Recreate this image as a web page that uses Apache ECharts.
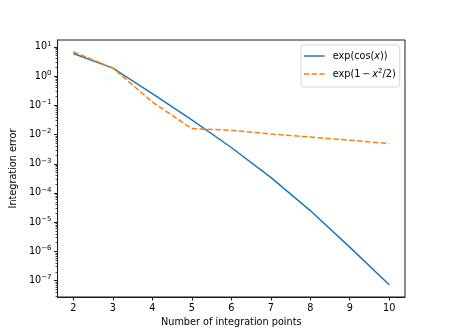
<!DOCTYPE html>
<html>
<head>
<meta charset="utf-8">
<script src="https://cdn.jsdelivr.net/npm/echarts@6/dist/echarts.min.js"></script>
<style>
html,body{margin:0;padding:0;background:#fff;}
#chart{width:450px;height:333px;}
</style>
</head>
<body>
<div id="chart"></div>
<script>
// Data
const points = [2, 3, 4, 5, 6, 7, 8, 9, 10];
const errCos = [5.9, 1.87, 0.25, 0.032, 0.0036, 3.4e-4, 2.5e-5, 1.4e-6, 7.2e-8];
const errGauss = [6.8, 1.9, 0.13, 0.016, 0.014, 0.0104, 0.0082, 0.0064, 0.0049];
const seriesNames = ['exp(cos(x))', 'exp(1 − x²/2)'];
const xTicks = [2, 3, 4, 5, 6, 7, 8, 9, 10];
const yExponents = [-7, -6, -5, -4, -3, -2, -1, 0, 1];

const yMin = Math.pow(10, -7.56);
const yMax = Math.pow(10, 1.235);
const yMajor = yExponents.map(e => Math.pow(10, e));
const yMinor = [];
for (let e = -8; e <= 1; e++) {
  for (let k = 2; k <= 9; k++) {
    const v = k * Math.pow(10, e);
    if (v > yMin && v < yMax) yMinor.push(v);
  }
}

const FONT = 'DejaVu Sans';
const FS = 9.7;
const BLACK = '#000';
const AX = '#1a1a1a';
const chart = echarts.init(document.getElementById('chart'), null, {renderer: 'canvas'});

const legendFmt = {
  'exp(cos(x))': '{g|}{n|exp(cos(}{i|x}{n|))}',
  'exp(1 − x²/2)': '{g|}{n|exp(1\u2009−\u2009}{i|x}{s|2}{n|/2)}'
};

chart.setOption({
  animation: false,
  backgroundColor: '#fff',
  grid: {
    left: 56, right: 45, top: 40, bottom: 36,
    show: true, borderColor: AX, borderWidth: 1, backgroundColor: 'transparent'
  },
  legend: {
    left: 301, top: 45, orient: 'vertical',
    itemWidth: 21, itemHeight: 10, itemGap: 7,
    padding: [6, 4, 8, 2],
    backgroundColor: '#fff', borderColor: '#d6d6d6', borderWidth: 1, borderRadius: 3,
    data: seriesNames,
    itemStyle: {opacity: 0},
    lineStyle: {width: 1.5},
    formatter: name => legendFmt[name],
    textStyle: {
      fontFamily: FONT, fontSize: FS, color: BLACK,
      rich: {
        g: {width: 3, lineHeight: 12},
        n: {fontFamily: FONT, fontSize: FS, color: BLACK, lineHeight: 12},
        i: {fontFamily: FONT, fontSize: FS, fontStyle: 'italic', color: BLACK, lineHeight: 12},
        s: {fontFamily: FONT, fontSize: 7, color: BLACK, verticalAlign: 'top', padding: [0, 0, 5, 0]}
      }
    }
  },
  xAxis: {
    type: 'value', min: 1.6, max: 10.4,
    name: 'Number of integration points', nameLocation: 'middle', nameGap: 19,
    nameTextStyle: {fontFamily: FONT, fontSize: FS, color: BLACK},
    axisLine: {show: true, lineStyle: {color: AX, width: 1}},
    axisTick: {show: true, inside: false, length: 3.5, customValues: xTicks, lineStyle: {color: AX}},
    axisLabel: {show: true, customValues: xTicks, margin: 6, fontFamily: FONT, fontSize: FS, color: BLACK},
    splitLine: {show: false}
  },
  yAxis: [
    {
      type: 'log', logBase: 10, min: yMin, max: yMax,
      name: 'Integration error', nameLocation: 'middle', nameGap: 36,
      nameTextStyle: {fontFamily: FONT, fontSize: FS, color: BLACK},
      axisLine: {show: true, lineStyle: {color: AX, width: 1}},
      axisTick: {show: true, inside: false, length: 3.5, customValues: yMajor, lineStyle: {color: AX}},
      axisLabel: {
        show: true, customValues: yMajor, margin: 6,
        formatter: v => {
          const e = Math.round(Math.log10(v));
          return '{b|10}{e|' + (e < 0 ? '−' + (-e) : String(e)) + '}';
        },
        rich: {
          b: {fontFamily: FONT, fontSize: FS, color: BLACK},
          e: {fontFamily: FONT, fontSize: 7, color: BLACK, verticalAlign: 'top', padding: [0, 0, 6, 0]}
        }
      },
      splitLine: {show: false}
    },
    {
      type: 'log', logBase: 10, min: yMin, max: yMax, position: 'left',
      axisLine: {show: false},
      axisTick: {show: true, inside: false, length: 2, customValues: yMinor, lineStyle: {color: AX, width: 0.8}},
      axisLabel: {show: false},
      splitLine: {show: false}
    }
  ],
  series: [
    {
      name: seriesNames[0], type: 'line', yAxisIndex: 0,
      data: points.map((x, i) => [x, errCos[i]]),
      showSymbol: false, symbol: 'none',
      lineStyle: {color: '#1f77b4', width: 1.5},
      itemStyle: {color: '#1f77b4'}
    },
    {
      name: seriesNames[1], type: 'line', yAxisIndex: 0,
      data: points.map((x, i) => [x, errGauss[i]]),
      showSymbol: false, symbol: 'none',
      lineStyle: {color: '#ff7f0e', width: 1.5, type: [5.5, 2.4]},
      itemStyle: {color: '#ff7f0e'}
    }
  ]
});
</script>
</body>
</html>
